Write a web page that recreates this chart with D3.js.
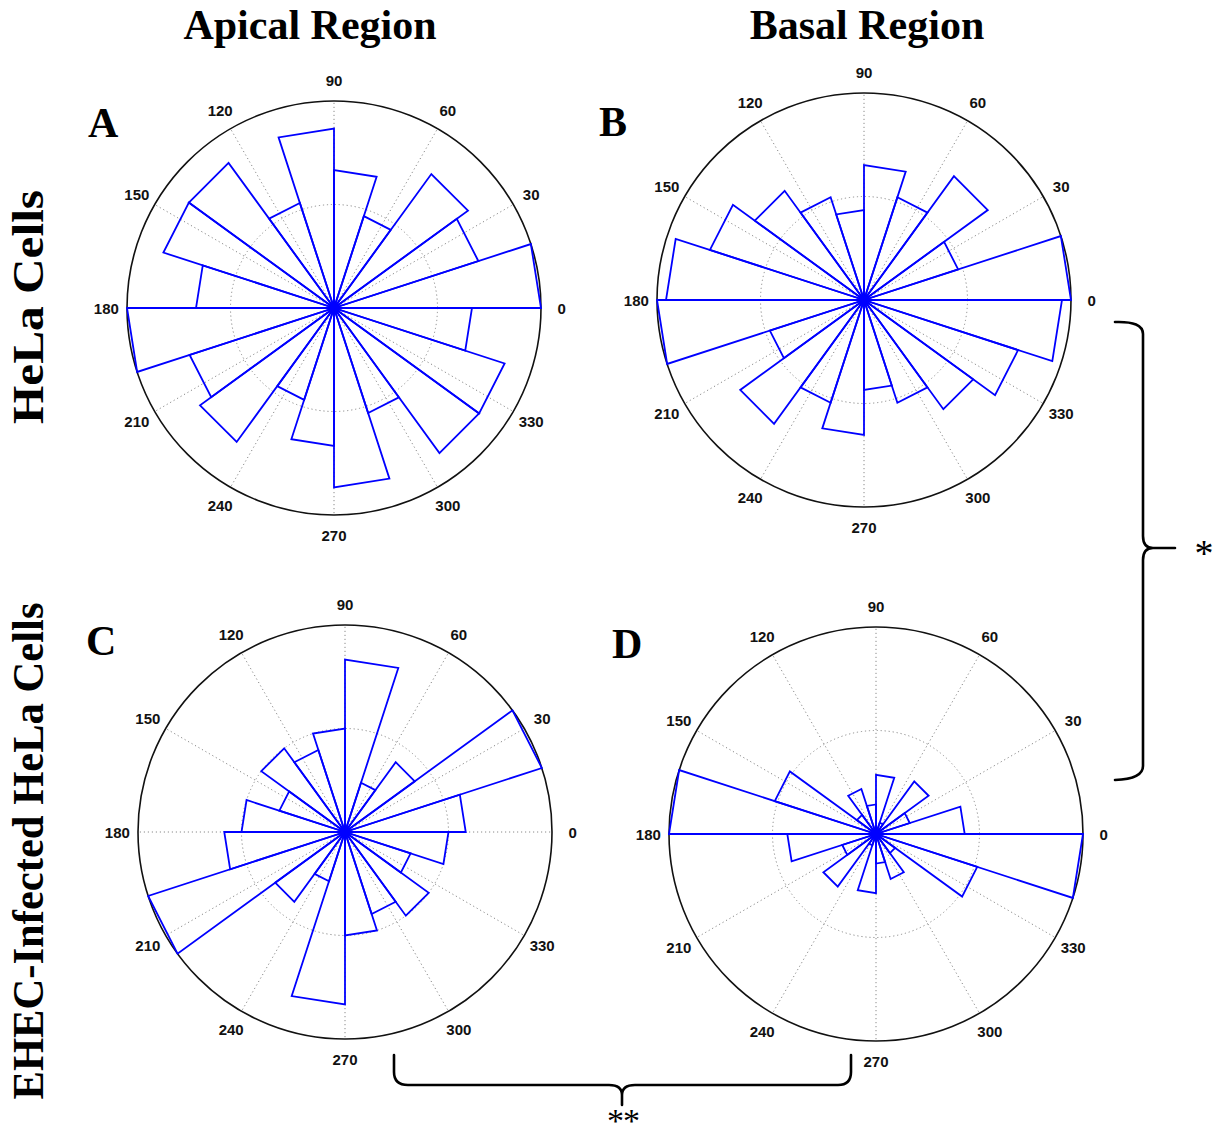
<!DOCTYPE html>
<html>
<head>
<meta charset="utf-8">
<script src="https://cdn.jsdelivr.net/npm/d3@7"></script>
<style>
  body { margin: 0; background: #fff; }
</style>
</head>
<body>
<div id="chart"></div>
<script>
// bin edges (degrees) of the rose histograms, 20 bins of 18 deg
const binEdges = [0, 18, 36, 54, 72, 90, 108, 126, 144, 162, 180, 198, 216, 234, 252, 270, 288, 306, 324, 342, 360];

// counts per bin
const countsA = [15, 11, 12, 7, 10, 13, 8, 13, 13, 10, 15, 11, 12, 7, 10, 13, 8, 13, 13, 10];
const countsB = [23, 11, 17, 12, 15, 10, 12, 15, 18, 22, 23, 11, 17, 12, 15, 10, 12, 15, 18, 22];
const countsC = [7, 12, 5, 3, 10, 6, 5, 6, 4, 6, 7, 12, 5, 3, 10, 6, 5, 6, 4, 6];
const countsD = [15, 6, 11, 2, 10, 5, 8, 4, 18, 35, 15, 6, 11, 2, 10, 5, 8, 4, 18, 35];

const angleTicks = [0, 30, 60, 90, 120, 150, 180, 210, 240, 270, 300, 330];
const columnTitles = ["Apical Region", "Basal Region"];
const rowTitles = ["HeLa Cells", "EHEC-Infected HeLa Cells"];
const panelLetters = ["A", "B", "C", "D"];
const significance = ["*", "**"];

const width = 1216;
const height = 1140;
const R = 207;
const serif = "'Liberation Serif', 'Times New Roman', serif";
const sans = "'Liberation Sans', Arial, Helvetica, sans-serif";

const panels = [
  { letter: panelLetters[0], counts: countsA, cx: 334, cy: 308, lx: 88, ly: 137 },
  { letter: panelLetters[1], counts: countsB, cx: 864, cy: 300, lx: 599, ly: 136 },
  { letter: panelLetters[2], counts: countsC, cx: 345, cy: 832, lx: 86, ly: 655 },
  { letter: panelLetters[3], counts: countsD, cx: 876, cy: 834, lx: 612, ly: 658 },
];

const toRad = (deg) => ((90 - deg) * Math.PI) / 180;

const svg = d3
  .select("#chart")
  .append("svg")
  .attr("width", width)
  .attr("height", height)
  .attr("viewBox", `0 0 ${width} ${height}`);

svg.append("rect").attr("width", width).attr("height", height).attr("fill", "#fff");

/** panels **/
panels.forEach((p) => {
  const rMax = d3.max(p.counts);
  const r = d3.scaleLinear().domain([0, rMax]).range([0, R]);
  const g = svg.append("g").attr("transform", `translate(${p.cx},${p.cy})`);

  // spokes
  g.selectAll("line.spoke")
    .data(angleTicks)
    .join("line")
    .attr("class", "spoke")
    .attr("x1", 0)
    .attr("y1", 0)
    .attr("x2", (d) => d3.pointRadial(toRad(d), r(rMax))[0])
    .attr("y2", (d) => d3.pointRadial(toRad(d), r(rMax))[1])
    .attr("stroke", "#8a8a8a")
    .attr("stroke-width", 1)
    .attr("stroke-dasharray", "1.2,2.8");

  // inner dotted ring
  g.append("circle")
    .attr("r", r(rMax / 2))
    .attr("fill", "none")
    .attr("stroke", "#8a8a8a")
    .attr("stroke-width", 1)
    .attr("stroke-dasharray", "1.2,2.8");

  // outer ring
  g.append("circle")
    .attr("r", r(rMax))
    .attr("fill", "none")
    .attr("stroke", "#111")
    .attr("stroke-width", 1.6);

  // angle labels
  g.selectAll("text.tick")
    .data(angleTicks)
    .join("text")
    .attr("class", "tick")
    .attr("x", (d) => d3.pointRadial(toRad(d), r(rMax * 1.1))[0])
    .attr("y", (d) => d3.pointRadial(toRad(d), r(rMax * 1.1))[1])
    .attr("text-anchor", "middle")
    .attr("dominant-baseline", "central")
    .attr("font-family", sans)
    .attr("font-weight", "bold")
    .attr("font-size", 15)
    .attr("fill", "#111")
    .text((d) => d);

  // rose wedges
  const wedge = d3
    .lineRadial()
    .angle((d) => toRad(d[0]))
    .radius((d) => r(d[1]));

  g.selectAll("path.wedge")
    .data(p.counts)
    .join("path")
    .attr("class", "wedge")
    .attr("d", (c, i) =>
      wedge([
        [binEdges[i], 0],
        [binEdges[i], c],
        [binEdges[i + 1], c],
        [binEdges[i + 1], 0],
      ]) + "Z",
    )
    .attr("fill", "none")
    .attr("stroke", "#0000ff")
    .attr("stroke-width", 1.8)
    .attr("stroke-linejoin", "miter");

  g.append("circle").attr("r", 4).attr("fill", "#0000ff");

  // panel letter
  svg
    .append("text")
    .attr("x", p.lx)
    .attr("y", p.ly)
    .attr("font-family", serif)
    .attr("font-weight", "bold")
    .attr("font-size", 42)
    .attr("fill", "#000")
    .text(p.letter);
});

/** column titles **/
svg
  .selectAll("text.coltitle")
  .data(columnTitles)
  .join("text")
  .attr("class", "coltitle")
  .attr("x", (d, i) => [310, 867][i])
  .attr("y", 39)
  .attr("text-anchor", "middle")
  .attr("font-family", serif)
  .attr("font-weight", "bold")
  .attr("font-size", 42)
  .attr("fill", "#000")
  .text((d) => d);

/** row titles **/
svg
  .selectAll("text.rowtitle")
  .data(rowTitles)
  .join("text")
  .attr("class", "rowtitle")
  .attr("transform", (d, i) => `translate(43,${[307, 851][i]}) rotate(-90)`)
  .attr("text-anchor", "middle")
  .attr("font-family", serif)
  .attr("font-weight", "bold")
  .attr("font-size", 44)
  .attr("fill", "#000")
  .attr("textLength", (d, i) => [234, 497][i])
  .attr("lengthAdjust", "spacingAndGlyphs")
  .text((d) => d);

/** braces **/
const brace = svg
  .append("g")
  .attr("fill", "none")
  .attr("stroke", "#000")
  .attr("stroke-width", 2.6)
  .attr("stroke-linecap", "round");

brace
  .append("path")
  .attr(
    "d",
    "M1115,322 Q1143,321 1143,334 L1143,536 Q1143,548 1153,548 L1175,548 M1153,548 Q1143,548 1143,560 L1143,766 Q1143,779 1115,780",
  );

brace
  .append("path")
  .attr(
    "d",
    "M394,1055 L394,1072 Q394,1085 408,1085 L609,1085 Q622,1085 622,1095 L622,1105 M622,1095 Q622,1085 635,1085 L838,1085 Q851,1085 851,1072 L851,1055",
  );

svg
  .selectAll("text.sig")
  .data(significance)
  .join("text")
  .attr("class", "sig")
  .attr("x", (d, i) => [1204, 623][i])
  .attr("y", (d, i) => [566, 1132][i])
  .attr("text-anchor", "middle")
  .attr("font-family", serif)
  .attr("font-size", (d, i) => [38, 34][i])
  .attr("letter-spacing", (d, i) => (i ? -1 : 0))
  .attr("fill", "#000")
  .text((d) => d);
</script>
</body>
</html>
